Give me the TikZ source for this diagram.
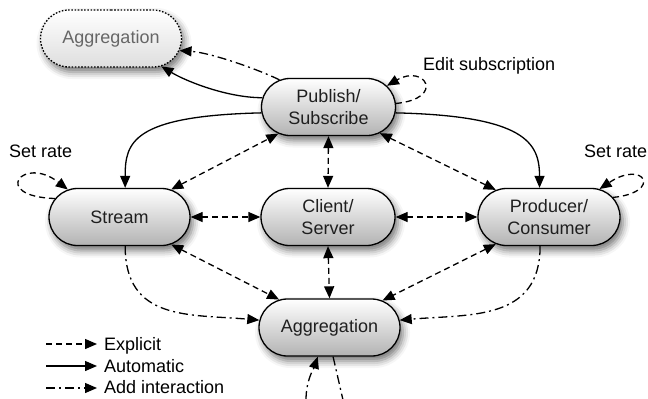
\documentclass[tikz,border=0pt]{standalone}
\usepackage{fontspec}
\setmainfont{Liberation Sans}
\usetikzlibrary{arrows.meta,shapes.misc,shadows.blur}
\begin{document}
\begin{tikzpicture}[x=1bp,y=-1bp,
  txt/.style={font=\fontsize{18bp}{22bp}\selectfont},
  box/.style={rounded rectangle, draw, line width=1.3bp, minimum height=57bp, inner sep=2bp,
    align=center, top color=white, bottom color=black!30, txt, text=black!88,
    blur shadow={shadow xshift=3bp, shadow yshift=-5bp, shadow blur radius=7bp, shadow opacity=55}},
  ghost/.style={box, dash pattern=on 1.6bp off 1.6bp, bottom color=black!13, text=black!60},
  lbl/.style={txt, inner sep=0pt, anchor=base west},
  edge/.style={line width=1.3bp},
  tip/.style={-{Triangle[length=12bp,width=10bp]}},
  both/.style={{Triangle[length=12bp,width=10bp]}-{Triangle[length=12bp,width=10bp]}},
  expl/.style={edge, dash pattern=on 6bp off 4bp},
  dashdot/.style={edge, dash pattern=on 9bp off 4bp on 2bp off 4bp},
]
\useasboundingbox (0,0) rectangle (648,398);

% nodes
\node[ghost, minimum width=145bp] (aggtop) at (111,38.5) {Aggregation};
\node[box, minimum width=138bp] (pubsub) at (328.5,107) {Publish/\\Subscribe};
\node[box, minimum width=145bp] (stream) at (119.5,217) {Stream};
\node[box, minimum width=138bp] (client) at (328,217) {Client/\\Server};
\node[box, minimum width=146bp] (prod) at (549,217) {Producer/\\Consumer};
\node[box, minimum width=145bp] (agg) at (329.5,327.5) {Aggregation};

% labels
\node[lbl] (es) at (423,70) {Edit subscription};
\node[lbl] (sr1) at (9,157) {Set rate};
\node[lbl] (sr2) at (584,157) {Set rate};

% to top aggregation
\draw[dashdot,tip] (pubsub.151.5) .. controls +(-25,-12) and +(30,2) .. (aggtop.-10.5);
\draw[edge,tip] (pubsub.172.5) .. controls +(-35,0) and +(25,15) .. (aggtop.-29.5);

% automatic
\draw[edge,tip] (pubsub.185) .. controls +(-130,3) and +(0,-45) .. (stream.79);
\draw[edge,tip] (pubsub.-5.8) .. controls +(130,3) and +(0,-45) .. (prod.108);

% self loops
\draw[expl,tip] (pubsub.3.4) .. controls +(50,-5) and +(38,-22) .. (pubsub.20.7);
\draw[expl,tip] (stream.164) .. controls +(-65,-2) and +(-45,-35) .. (stream.152);
\draw[expl,tip] (prod.17.6) .. controls +(50,-5) and +(45,-30) .. (prod.29);

% explicit double arrows
\draw[expl,both] (stream.28) -- (pubsub.208);
\draw[expl,both] (pubsub.south) -- (client.north);
\draw[expl,both] (pubsub.-27.5) -- (prod.153);
\draw[expl,both] (stream.east) -- (client.west);
\draw[expl,both] (client.east) -- (prod.west);
\draw[expl,both] (stream.-28) -- (agg.151.6);
\draw[expl,both] (client.south) -- (agg.north);
\draw[expl,both] (prod.207) -- (agg.27.6);

% add interaction
\draw[dashdot,tip] (stream.-79) .. controls +(0,75) and +(-70,-6) .. (agg.174);
\draw[dashdot,tip] (prod.253) .. controls +(0,75) and +(70,-6) .. (agg.6);
\coordinate (bin) at (306,400);
\coordinate (bout) at (343,400);
\draw[dashdot,tip] (bin) .. controls +(0,-20) and +(-4,12) .. (agg.248);
\draw[dashdot] (agg.277) -- (bout);

% legend
\coordinate (l1a) at (46,344); \coordinate (l1b) at (97,344);
\coordinate (l2a) at (46,366); \coordinate (l2b) at (97,366);
\coordinate (l3a) at (46,388); \coordinate (l3b) at (97,388);
\draw[expl,tip] (l1a) -- (l1b);
\draw[edge,tip] (l2a) -- (l2b);
\draw[dashdot,tip] (l3a) -- (l3b);
\node[lbl] (t1) at (104,350) {Explicit};
\node[lbl] (t2) at (104,372) {Automatic};
\node[lbl] (t3) at (104,393.5) {Add interaction};
\end{tikzpicture}
\end{document}
